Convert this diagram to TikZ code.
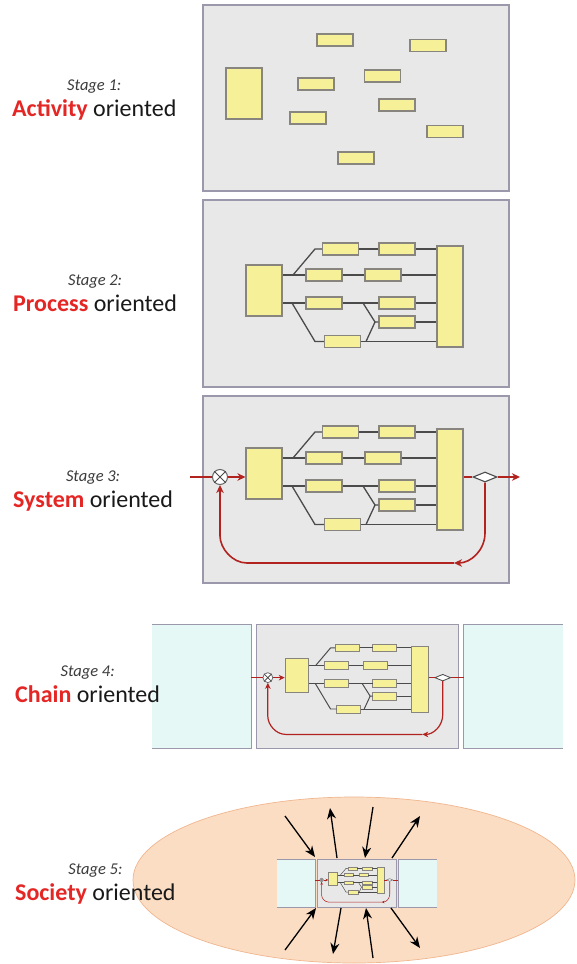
\documentclass[tikz,border=0pt]{standalone}
\usepackage{fontspec}
\setmainfont{Carlito}
\usetikzlibrary{arrows.meta,shapes.geometric}
\definecolor{panelfill}{RGB}{232,232,233}
\definecolor{panelline}{RGB}{155,152,172}
\definecolor{blkfill}{RGB}{246,240,152}
\definecolor{blkline}{RGB}{135,133,125}
\definecolor{wirecol}{RGB}{75,75,75}
\definecolor{redwire}{RGB}{178,34,30}
\definecolor{redtxt}{RGB}{228,38,36}
\definecolor{txtblack}{RGB}{25,25,25}
\definecolor{cyanfill}{RGB}{230,248,245}
\definecolor{peach}{RGB}{251,221,196}
\definecolor{peachline}{RGB}{240,182,142}
\definecolor{stagecol}{RGB}{60,60,60}
\definecolor{circline}{RGB}{100,100,100}
\newcommand\lwf{1}
\tikzset{
  panel/.style={fill=panelfill, draw=panelline, line width=\lwf*1.2pt},
  blk/.style={fill=blkfill, draw=blkline, line width=\lwf*1.1pt, inner sep=0pt, transform shape},
  sblk/.style={blk, minimum width=36pt, minimum height=12pt},
  wire/.style={draw=wirecol, line width=\lwf*1.3pt},
  rwire/.style={draw=redwire, line width=\lwf*1.6pt},
  rtip/.style={-{Stealth[length=8pt,width=7.5pt,inset=2.5pt,scale=\lwf]}},
  cyanline/.style={draw=panelline, line width=\lwf*1.2pt},
  sarrow/.style={draw=black, line width=1.3pt, -{Stealth[length=11pt,width=9pt,inset=3.5pt]}},
  mainlab/.style={anchor=base west, inner sep=0pt, font=\fontsize{24}{28}\selectfont, text=txtblack},
  stagelab/.style={anchor=base, inner sep=0pt, font=\fontsize{16.5}{20}\selectfont\itshape, text=stagecol},
}
\newcommand\ProcBody[1]{%
  \node[blk, minimum width=36pt, minimum height=51pt] (#1lb) at (18,25.5) {};
  \node[blk, minimum width=26pt, minimum height=101pt] (#1rb) at (204,31.5) {};
  \node[sblk] (#1a) at (94.5,-16) {};
  \node[sblk] (#1b) at (151,-16) {};
  \node[sblk] (#1c) at (78,10) {};
  \node[sblk] (#1d) at (137,10) {};
  \node[sblk] (#1e) at (78,38) {};
  \node[sblk] (#1f) at (151,38) {};
  \node[sblk] (#1g) at (151,57) {};
  \node[sblk] (#1h) at (96.5,76.5) {};
  \coordinate (#1k1) at (47,10);
  \coordinate (#1k2) at (46,38);
  \coordinate (#1k3) at (117,38);
  \coordinate (#1k4) at (120,76.5);
  \draw[wire] (#1lb.east |- #1c.west) -- (#1c.west);
  \draw[wire] (#1k1) -- (69,-16) -- (#1a.west);
  \draw[wire] (#1a.east) -- (#1b.west);
  \draw[wire] (#1b.east) -- (#1rb.west |- #1b.east);
  \draw[wire] (#1c.east) -- (#1d.west);
  \draw[wire] (#1d.east) -- (#1rb.west |- #1d.east);
  \draw[wire] (#1lb.east |- #1e.west) -- (#1e.west);
  \draw[wire] (#1k2) -- (69,76.5) -- (#1h.west);
  \draw[wire] (#1e.east) -- (#1f.west);
  \draw[wire] (#1f.east) -- (#1rb.west |- #1f.east);
  \draw[wire] (#1k3) -- (129,57) -- (#1g.west);
  \draw[wire] (#1g.east) -- (#1rb.west |- #1g.east);
  \draw[wire] (#1h.east) -- (#1rb.west |- #1h.east);
  \draw[wire] (#1k4) -- (129,57);
}
\newcommand\SysExtras[4]{%
  \node[circle, minimum size=15pt, inner sep=0pt, fill=white, draw=circline, line width=\lwf*1pt, transform shape] (#1circ) at (-26,29) {};
  \draw[draw=wirecol, line width=\lwf*1pt] (#1circ.45) -- (#1circ.225) (#1circ.135) -- (#1circ.-45);
  \node[diamond, minimum width=24pt, minimum height=10pt, inner sep=0pt, fill=white, draw=wirecol, line width=\lwf*1.1pt, transform shape] (#1dia) at (239,29) {};
  \coordinate (#1in) at (#2,29);
  \coordinate (#1out) at (#3,29);
  \coordinate (#1fbm) at (208,115);
  \draw[rwire] (#1in) -- (#1circ.west);
  \draw[rwire,rtip] (#1circ.east) -- (#1lb.west |- #1circ.east);
  \draw[rwire] (#1rb.east |- #1dia.west) -- (#1dia.west);
  \draw[rwire,#4] (#1dia.east) -- (#1out);
  \draw[rwire,rtip] (#1dia.south) -- (239,85) .. controls (239,102) and (225,115) .. (#1fbm);
  \draw[rwire,rtip] (#1fbm) -- (1,115) .. controls (-14,115) and (-26,100) .. (-26,88) -- (#1circ.south);
}
\newcommand\ChainUnit[1]{%
  \fill[cyanfill] (-201.5,-52) rectangle (-51.5,136);
  \draw[cyanline] (-201.5,-52) -- (-51.5,-52) -- (-51.5,136) -- (-201.5,136);
  \fill[cyanfill] (271,-52) rectangle (421,136);
  \draw[cyanline] (421,-52) -- (271,-52) -- (271,136) -- (421,136);
  \draw[panel] (-43,-52) rectangle (263,136);
  \ProcBody{#1}
  \SysExtras{#1}{-51.5}{271}{}
}
\begin{document}
\begin{tikzpicture}[x=1pt,y=-1pt]
\fill[white] (0,0) rectangle (576,964);
\useasboundingbox (0,0) rectangle (576,964);

% ---------- Stage 1 ----------
\draw[panel] (203,5) rectangle (509,191);
\node[blk, minimum width=36pt, minimum height=51pt] (t1) at (244,93.5) {};
\node[sblk] (p1) at (335,40) {};
\node[sblk] (p2) at (428,45.5) {};
\node[sblk] (p3) at (316,84) {};
\node[sblk] (p4) at (382.5,76) {};
\node[sblk] (p5) at (397,105) {};
\node[sblk] (p6) at (308,118) {};
\node[sblk] (p7) at (445,131.5) {};
\node[sblk] (p8) at (356,158) {};

% ---------- Stage 2 ----------
\begin{scope}[shift={(246,265)}]
  \draw[panel] (-43,-65) rectangle (263,122);
  \ProcBody{s2}
\end{scope}

% ---------- Stage 3 ----------
\begin{scope}[shift={(246,448)}]
  \draw[panel] (-43,-52) rectangle (263,135);
  \ProcBody{s3}
  \SysExtras{s3}{-56}{274}{rtip}
\end{scope}

% ---------- Stage 4 ----------
\begin{scope}[shift={(285,658.5)},scale=0.66]
  \renewcommand\lwf{0.75}
  \ChainUnit{s4}
\end{scope}

% ---------- Stage 5 ----------
\draw[fill=peach, draw=peachline, line width=0.7pt] (354,880) ellipse [x radius=221, y radius=83];
\begin{scope}[shift={(328.3,872.5)},scale=0.257]
  \renewcommand\lwf{0.35}
  \ChainUnit{s5}
\end{scope}
\coordinate (q1a) at (285,816); \coordinate (q1b) at (315,857);
\coordinate (q2a) at (337,858); \coordinate (q2b) at (330,808);
\coordinate (q3a) at (373,807); \coordinate (q3b) at (365,858);
\coordinate (q4a) at (392,858); \coordinate (q4b) at (420,816);
\coordinate (q5a) at (285,950); \coordinate (q5b) at (316,908);
\coordinate (q6a) at (341,908); \coordinate (q6b) at (333,954);
\coordinate (q7a) at (373,958); \coordinate (q7b) at (366,908);
\coordinate (q8a) at (391,908); \coordinate (q8b) at (420,948);
\foreach \k in {1,...,8} {\draw[sarrow] (q\k a) -- (q\k b);}

% ---------- Labels ----------
\node[mainlab] (L1) at (12,116) {\textcolor{redtxt}{\bfseries Activity} oriented};
\node[stagelab] (S1) at ([yshift=26pt]L1.base) {Stage 1:};
\node[mainlab] (L2) at (13,311.7) {\textcolor{redtxt}{\bfseries Process} oriented};
\node[stagelab] (S2) at ([yshift=26pt]L2.base) {Stage 2:};
\node[mainlab] (L3) at (13,507.7) {\textcolor{redtxt}{\bfseries System} oriented};
\node[stagelab] (S3) at ([yshift=26pt]L3.base) {Stage 3:};
\node[mainlab] (L4) at (15,702.7) {\textcolor{redtxt}{\bfseries Chain} oriented};
\node[stagelab] (S4) at ([yshift=26pt]L4.base) {Stage 4:};
\node[mainlab] (L5) at (15,900.7) {\textcolor{redtxt}{\bfseries Society} oriented};
\node[stagelab] (S5) at ([yshift=26pt]L5.base) {Stage 5:};
\end{tikzpicture}
\end{document}
